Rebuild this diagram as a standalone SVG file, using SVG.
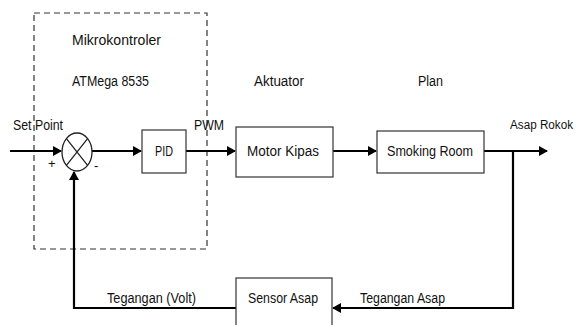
<svg xmlns="http://www.w3.org/2000/svg" width="579" height="325" viewBox="0 0 579 325">
<style>
.box{fill:#fff;stroke:#333;stroke-width:1.2}
.ln{fill:none;stroke:#000;stroke-width:2.2}
.dash{fill:none;stroke:#333;stroke-width:1.2;stroke-dasharray:6,4}
text{font-family:"Liberation Sans",Arial,sans-serif;font-size:14px;fill:#111}
text.s{font-size:13px}
text.out{font-size:12px}
.c{text-anchor:middle}
</style>
<defs>
<marker id="ar" markerWidth="10" markerHeight="10" refX="8" refY="5" orient="auto" markerUnits="userSpaceOnUse">
<path d="M0,0 L9,5 L0,10 Z" fill="#000"/>
</marker>
</defs>
<rect width="579" height="325" fill="#fff"/>
<g id="mikrokontroler">
<rect class="dash" x="34" y="13" width="173" height="236"/>
<text x="72" y="45" textLength="89" lengthAdjust="spacingAndGlyphs">Mikrokontroler</text>
<text x="72" y="86" textLength="77" lengthAdjust="spacingAndGlyphs">ATMega 8535</text>
</g>
<text x="254" y="86" textLength="50" lengthAdjust="spacingAndGlyphs">Aktuator</text>
<text x="418" y="86" textLength="25" lengthAdjust="spacingAndGlyphs">Plan</text>
<g id="connectors">
<path class="ln" d="M10,151 H61" marker-end="url(#ar)"/>
<path class="ln" d="M92,151 H141" marker-end="url(#ar)"/>
<path class="ln" d="M186,151 H235" marker-end="url(#ar)"/>
<path class="ln" d="M333,151 H376" marker-end="url(#ar)"/>
<path class="ln" d="M484,151 H547" marker-end="url(#ar)"/>
<path class="ln" d="M513,151 V308 H333" marker-end="url(#ar)"/>
<path class="ln" d="M236,308 H74 V172" marker-end="url(#ar)"/>
<text x="13" y="130" textLength="50" lengthAdjust="spacingAndGlyphs">Set Point</text>
<text x="194" y="130" textLength="30" lengthAdjust="spacingAndGlyphs">PWM</text>
<text class="out" x="510" y="129" textLength="63" lengthAdjust="spacingAndGlyphs">Asap Rokok</text>
<text x="107" y="303" textLength="89" lengthAdjust="spacingAndGlyphs">Tegangan (Volt)</text>
<text x="360" y="303" textLength="85" lengthAdjust="spacingAndGlyphs">Tegangan Asap</text>
</g>
<g id="sum">
<ellipse cx="77" cy="152" rx="15" ry="19" fill="#fff" stroke="#222" stroke-width="1.3"/>
<path d="M66.4,138.6 L87.6,165.4 M87.6,138.6 L66.4,165.4" stroke="#222" stroke-width="1.3"/>
<text class="s" x="48" y="168">+</text>
<text class="s" x="94" y="170">-</text>
</g>
<g id="pid">
<rect class="box" x="142" y="130" width="44" height="43"/>
<text class="c" x="164" y="156" textLength="18" lengthAdjust="spacingAndGlyphs">PID</text>
</g>
<g id="motor">
<rect class="box" x="236" y="127" width="97" height="50"/>
<text class="c" x="283" y="156" textLength="72" lengthAdjust="spacingAndGlyphs">Motor Kipas</text>
</g>
<g id="room">
<rect class="box" x="377" y="131" width="107" height="42"/>
<text class="c" x="430" y="156" textLength="86" lengthAdjust="spacingAndGlyphs">Smoking Room</text>
</g>
<g id="sensor">
<rect class="box" x="236" y="278" width="96" height="52"/>
<text class="c" x="283" y="303" textLength="70" lengthAdjust="spacingAndGlyphs">Sensor Asap</text>
</g>
</svg>
